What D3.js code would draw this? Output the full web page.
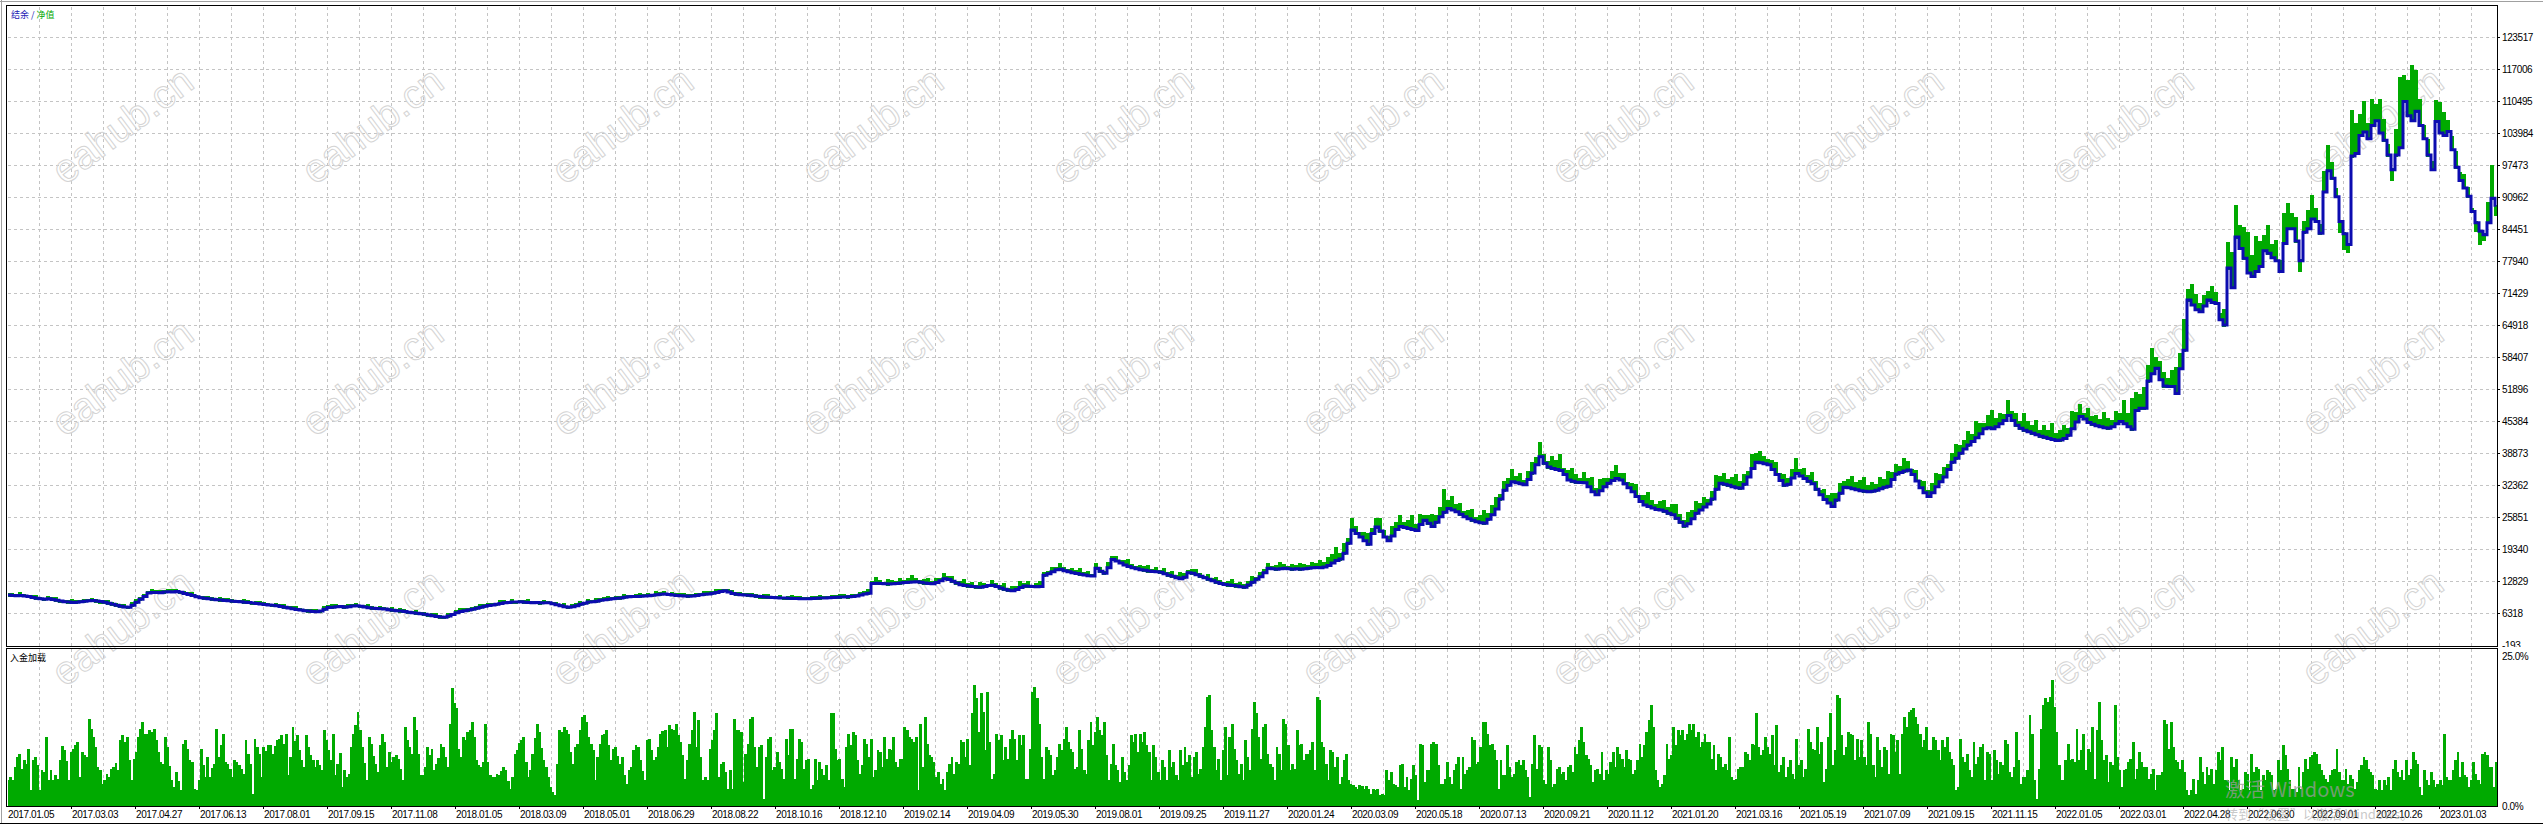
<!DOCTYPE html>
<html><head><meta charset="utf-8">
<script src="https://cdn.jsdelivr.net/npm/d3@7"></script>
<style>html,body{margin:0;padding:0;background:#fff;}svg{display:block;}</style>
</head><body>
<svg id="c" width="2543" height="824"></svg>
<script>
// ---- data ----
const balance = [
9980,9900,9850,9900,9800,9700,9450,9300, 9200,9100,9200,9050,8900,8750,8600,8550,
8450,8500,8600,8700,8800,8850,8750,8650, 8500,8300,8100,7900,7700,7550,7500,7900,
8500,9100,9700,10400,10500,10500,10450,10600, 10650,10600,10700,10550,10300,10100,9900,9600,
9400,9300,9200,9100,9000,8950,8850,8800, 8700,8650,8600,8500,8450,8350,8250,8150,
8050,7950,7900,7800,7650,7500,7350,7200, 7050,6950,6800,6700,6600,6550,6700,7100,
7450,7500,7600,7650,7500,7600,7750,7800, 7700,7550,7400,7300,7250,7200,7150,7000,
6900,6800,6700,6600,6450,6350,6250,6150, 6050,5900,5750,5600,5500,5450,5700,6000,
6350,6600,6800,6950,7100,7300,7500,7700, 7850,7950,8100,8250,8400,8450,8550,8550,
8600,8500,8450,8400,8450,8350,8400,8400, 8200,8000,7800,7600,7500,7600,7800,8100,
8300,8550,8600,8700,8900,9000,9100,9200, 9300,9350,9500,9600,9650,9700,9750,9780,
9850,9950,10050,10150,10200,10100,10000,9900, 9850,9800,9750,9780,9900,10050,10150,10200,
10350,10500,10700,10850,10600,10300,10150,10050, 10000,9950,9850,9750,9650,9550,9500,9450,
9400,9380,9350,9300,9280,9250,9230,9220, 9230,9250,9300,9350,9380,9400,9450,9500,
9550,9580,9620,9650,9800,10000,10200,10350, 12300,12350,12300,12250,12200,12250,12300,12400,
12500,12600,12650,12700,12550,12400,12300,12250, 12500,12900,13300,13150,12800,12400,12050,11900,
11800,11700,11600,11550,11700,11900,11950,11700, 11400,11150,10950,10850,11100,11500,11800,11750,
11700,11650,11700,14000,14300,14700,15100,15200, 14900,14700,14500,14350,14200,14050,13900,13850,
15400,14800,14400,15500,17200,16900,16500,16100, 15800,15500,15300,15100,15000,14850,14750,14700,
14600,14300,14000,13800,13500,13300,13600,14500, 14400,14100,13800,13500,13200,12900,12600,12300,
12100,12000,11900,11800,11650,11550,12000,12600, 13200,13700,14500,15400,15300,15200,15300,15400,
15300,15200,15300,15200,15300,15400,15500,15600, 15500,15700,16000,16500,17000,17300,18500,20500,
23200,22500,21800,21000,20300,22500,23800,23000, 21800,21000,22000,23300,23900,23700,23500,23300,
23100,24300,25200,24600,23900,24800,25900,26800, 27600,27300,26900,26400,25900,25500,25200,24900,
24700,24600,25400,26300,27500,29500,31300,32300, 33000,32800,32600,32400,33500,34800,36500,38100,
36800,36000,35700,35500,35300,34500,33400,33100, 32900,32850,32800,32000,31000,30400,31200,32000,
32700,33300,33700,33400,32600,31800,31000,30000, 29000,28300,28000,27700,27400,27300,27000,26600,
26300,25600,24800,24000,24500,25500,26600,27300, 27900,28500,29500,31500,32700,32500,32300,32000,
31800,31700,32500,34000,35700,37000,36900,36700, 36500,35500,34500,33300,32300,32500,33800,34700,
34200,33700,33100,32600,31500,30400,29400,28700, 28000,29300,30700,31900,31800,31600,31400,31200,
31100,31000,31100,31300,31600,31900,32100,33500, 34600,34900,35200,35400,34500,33200,31800,30800,
30000,30800,32000,33000,34000,35500,37000,37800, 38800,39700,40500,41200,42000,42800,43800,44000,
43800,44200,44800,45500,46500,45500,44500,43900, 43500,43200,42900,42600,42300,42100,41800,41600,
41400,41500,41800,42500,43800,45200,46300,45800, 45100,44700,44400,44200,44000,43900,44200,44800,
45300,44800,44200,43700,47500,48000,48000,53500, 55000,56100,53800,52500,52400,52400,51000,56000,
59800,70000,69000,68000,67600,68800,70000,69500, 69300,66000,64900,76500,72500,82800,80500,78500,
75500,74800,75800,76800,80000,79500,78600,78000, 75800,81500,84500,84500,82000,78000,83800,84500,
86500,86000,83600,92000,96300,94800,91000,86000, 83500,81300,99300,99800,103500,104200,102800,105500,
106500,104000,102500,99500,96500,99500,101000,110400, 107500,106500,108400,105500,102800,99500,96500,106300,
104000,103500,104300,100600,97000,94300,92800,91100, 88000,85700,84000,83300,85700,90700,89000
];
// floating profit/loss (equity minus balance) at the same points
const floating = [
150,250,0,300,100,-100,200,350,100,0,250,150,300,-50,100,200,400,150,0,250,100,300,150,-100,200,350,200,50,150,300,0,250,450,200,100,0,300,150,250,-100,150,350,200,0,100,250,400,150,50,200,
300,100,0,250,150,350,200,-50,100,300,250,0,150,400,200,100,-100,250,150,300,50,200,350,100,0,150,300,200,-50,250,100,350,150,0,200,300,100,250,-100,150,400,200,50,300,150,0,250,100,350,200,
0,150,300,100,250,-50,200,350,150,0,300,100,250,400,150,-100,200,100,300,50,250,150,0,350,200,100,300,-50,150,250,400,100,0,200,300,150,50,250,100,350,0,200,150,300,-100,250,100,400,150,200,
300,0,250,100,350,150,-50,200,300,100,250,0,400,150,200,-100,300,100,250,350,50,200,150,0,300,250,100,400,150,-50,200,350,100,250,0,150,300,200,-100,250,400,100,150,300,0,200,350,150,250,100,-50,300,200,400,100,0,250,150,350,200,-100,300,150,250,
200,600,300,900,400,100,700,500,200,800,300,600,1000,400,100,500,800,300,600,200,900,400,700,100,500,1100,300,600,200,800,400,0,700,500,300,900,200,600,400,1000,300,700,100,500,800,400,200,600,300,900,
500,200,700,400,1000,300,600,100,800,500,200,900,400,700,300,600,1200,400,200,700,500,900,300,600,100,800,400,700,300,1000,500,200,600,900,400,100,700,300,800,500,200,600,1000,400,700,300,500,900,200,600,
400,800,300,600,1000,500,200,700,400,900,600,300,800,500,1200,700,1500,
1500,2500,1000,1800,800,2200,1200,600,1500,2000,900,1600,2400,1100,700,1800,1300,2100,900,1500,2600,1000,1800,700,1400,2200,1100,1700,4500,1500,2500,1200,2000,900,1400,1900,700,1300,2300,1000,1600,2100,800,1500,1200,2400,1000,1800,600,1400,
2000,1200,2800,1500,900,2200,1600,3000,1100,1800,2500,1300,700,1900,1400,2600,1000,2100,1500,800,1700,2400,1200,1900,900,1500,2200,1100,1700,2700,1300,800,1600,2100,1000,1800,2600,1400,900,2000,1500,2300,1100,1700,800,1400,2500,1200,1900,1000,
1600,2400,1100,1800,900,2700,1500,2100,1200,800,1700,2300,1300,2000,900,1600,2800,1200,1800,1000,2200,1400,700,1900,1300,2500,1100,1700,900,1500,2200,1300,1800,2600,1100,1600,900,2000,1400,2900,1200,1700,1000,2300,1500,800,1900,1300,2100,1000,1600,2400,1200,1800,900,1500,2600,1300,
1500,2500,1200,3000,1800,900,2200,3500,1400,2000,1000,2800,1600,2300,1100,3200,1900,1300,2600,1000,2100,1500,3000,1200,1800,2500,1100,3300,1700,2200,1000,2700,1400,2000,1200,3000,1800,1000,2400,1500,4500,2500,6000,3500,2500,4000,3000,5000,2000,3500,2500,1500,3000,5000,3000,6000,2000,4000,3000,1500,
2000,1500,3000,2000,1000,3000,5000,7000,6300,4500,6000,8000,4000,7000,5000,3000,5500,2500,4000,2000,6000,5000,3000,4500,-2000,2000,3500,4500,2500,1500,4000,5000,3000,1500,-2000,-3000,-1500,9000,6000,4000,6000,3000,5000,3000,6500,4000,2000,-2000,5000,14000,5000,7000,11000,8000,5000,2500,3000,1500,4000,6000,4500,2000,2500,3000,1500,2500,1500,500,-1500,-2500,-1000,4000,6500,-1500
];
// deposit load, percent
const depositLoad = [
4.2,4.7,4.2,6.3,7.9,8.4,6.0,7.4,6.8,9.2,2.6,7.4,7.8,6.5,2.6,5.7,5.5,11.0,4.2,5.8,4.2,5.0,4.4,7.4,9.6,9.0,7.2,4.2,8.7,9.2,9.8,10.3,4.7,8.7,8.1,7.9,13.9,12.4,11.0,9.5,6.3,5.8,3.6,4.2,5.2,4.7,6.0,6.3,6.9,5.8,10.6,11.4,10.2,11.1,7.4,4.2,7.6,8.7,11.1,12.3,13.5,11.6,11.6,12.2,11.8,12.4,10.6,8.7,7.1,6.8,11.1,9.5,6.4,4.2,3.1,5.5,4.0,2.6,10.0,10.6,9.1,7.4,7.1,2.8,2.6,4.2,9.2,6.5,4.7,7.9,4.7,6.1,6.8,12.3,7.9,9.8,11.6,7.1,6.8,5.9,4.7,7.4,7.1,6.6,6.0,5.2,10.6,8.3,6.8,2.0,10.7,9.4,8.4,
4.7,9.5,8.8,9.8,9.8,8.4,9.6,10.6,10.8,11.4,9.9,11.6,5.0,7.9,12.6,10.4,11.4,9.0,7.4,6.3,11.4,9.5,8.2,7.4,6.3,7.4,6.6,5.8,12.2,10.6,8.9,7.4,11.6,5.0,6.8,8.5,3.1,5.8,4.6,5.2,9.5,11.6,13.0,15.1,12.2,9.5,6.9,4.2,11.1,10.0,8.0,6.8,5.5,9.8,11.6,10.2,6.3,8.7,7.1,7.9,8.2,7.6,5.9,4.2,12.7,10.6,9.5,8.3,14.3,12.2,8.4,5.0,5.0,6.3,9.5,8.1,9.2,5.8,6.8,7.7,10.0,9.5,7.8,6.3,13.2,18.9,16.5,15.7,9.2,7.9,11.1,10.5,11.9,12.2,13.5,11.0,7.4,6.6,6.3,7.0,13.2,7.1,5.0,4.6,4.7,5.2,5.0,5.6,6.3,5.8,4.0,2.8,4.7,8.4,9.0,10.1,10.6,11.1,7.0,4.7,5.8,8.4,10.9,13.2,11.9,9.3,7.4,6.3,4.7,3.1,2.2,1.8,6.8,12.2,11.9,12.6,12.2,11.6,8.7,6.8,9.5,10.0,12.1,14.3,14.6,13.5,11.1,10.0,9.0,4.2,7.9,10.0,11.4,11.6,12.2,9.8,7.4,9.2,9.5,8.0,6.8,7.9,5.0,3.6,5.8,6.3,9.0,9.7,9.5,7.4,5.6,4.2,10.6,10.8,9.0,7.4,7.9,9.5,11.6,12.0,12.2,9.5,13.0,12.4,12.2,13.2,11.4,10.2,8.2,4.4,7.4,10.0,12.2,15.1,9.5,
13.8,7.9,4.2,4.7,4.2,9.2,10.6,12.2,14.9,4.7,6.8,7.1,5.5,2.8,5.8,2.8,14.0,12.2,12.2,11.9,3.9,8.4,10.0,14.0,14.3,9.5,6.3,9.5,9.8,1.2,7.9,10.8,11.1,5.8,6.3,8.7,7.1,6.0,4.4,10.8,8.2,12.3,12.4,4.4,7.6,10.8,10.3,6.0,7.4,7.6,2.8,3.4,7.6,4.2,7.1,6.0,5.0,6.6,4.2,14.9,14.9,9.2,7.4,7.6,4.4,3.1,9.5,11.6,9.8,11.9,11.4,7.4,5.2,6.6,10.8,10.0,7.9,10.8,4.7,5.8,9.0,8.7,6.3,11.1,7.6,9.2,9.0,11.1,7.1,6.3,7.6,7.6,12.7,12.2,11.1,10.8,10.3,11.1,2.6,13.2,6.3,14.3,10.0,8.2,7.9,7.1,4.7,5.5,3.6,4.4,2.6,5.5,6.8,7.9,5.2,7.1,6.8,10.6,10.3,7.9,10.8,6.6,14.9,19.4,17.3,11.9,18.1,15.1,9.0,18.3,10.3,4.4,5.2,11.6,10.6,11.4,7.4,9.5,7.6,10.8,12.2,10.8,7.4,11.4,9.8,11.4,4.4,4.4,9.2,18.3,19.1,17.3,13.2,7.9,4.4,9.5,9.0,8.2,5.0,5.8,7.9,10.0,9.0,10.8,12.7,10.3,9.2,8.7,6.0,6.3,12.2,9.2,5.8,5.2,10.6,13.5,9.8,11.9,14.3,12.2,11.4,13.5,8.2,4.2,6.8,10.0,6.6,5.8,3.9,7.9,5.5,4.2,6.6,11.4,10.3,11.6,8.7,11.6,10.3,11.9,9.8,8.7,4.2,9.8,7.9,5.5,4.2,7.4,6.3,4.2,9.0,6.3,7.1,5.0,4.2,9.0,6.6,9.5,7.1,8.2,4.7,7.9,8.7,5.2,6.0,9.5,12.7,17.5,17.8,12.2,9.5,5.8,7.6,4.2,9.0,12.7,5.0,11.1,13.2,9.2,7.4,5.2,6.8,4.2,10.6,7.9,5.8,12.4,16.7,14.9,11.1,7.6,12.7,13.2,8.4,6.8,6.3,4.2,9.5,8.4,5.8,14.0,13.2,9.8,5.8,6.8,6.0,12.2,9.8,10.0,7.4,8.4,8.4,9.0,10.3,5.8,17.5,17.0,10.3,9.5,6.8,4.2,9.0,8.7,6.3,7.9,3.6,4.7,7.4,8.4,4.2,3.6,3.4,3.1,2.8,3.4,3.2,2.8,3.2,2.8,2.0,2.8,2.6,2.8,1.8,2.0,1.8,5.8,4.2,5.5,3.6,3.4,3.0,
6.6,6.8,3.1,4.7,2.6,4.4,6.6,5.0,1.0,10.0,9.8,3.9,5.8,5.8,10.0,10.3,10.0,6.6,3.6,3.6,4.4,7.1,4.7,3.6,5.8,6.8,7.9,2.8,7.9,5.2,5.8,6.3,11.1,10.6,6.8,7.1,9.5,13.5,13.5,11.6,9.8,10.0,9.0,7.4,2.8,7.4,5.0,5.0,9.8,6.3,4.7,5.2,7.1,7.4,6.6,7.4,5.8,4.7,1.5,6.8,11.4,6.0,9.8,9.5,4.2,3.6,9.5,7.4,3.1,3.6,6.0,6.3,5.2,5.5,4.2,6.3,6.6,5.5,9.5,8.4,10.6,12.7,10.3,8.2,7.6,6.6,3.9,5.8,6.0,5.2,8.7,4.2,5.8,5.2,7.1,8.7,6.3,9.5,8.4,7.6,6.3,9.0,7.6,7.4,5.2,5.8,7.4,10.0,7.9,9.8,11.9,13.8,16.2,12.7,5.8,4.2,3.1,3.6,5.0,10.0,7.6,8.2,12.7,9.8,12.2,11.4,12.2,10.6,11.6,13.2,12.2,13.2,11.1,11.9,9.5,10.3,11.6,10.3,10.3,7.6,9.8,5.8,8.4,7.9,6.3,6.8,5.8,11.1,4.7,4.2,4.4,6.0,6.3,6.3,8.7,8.4,7.4,10.0,9.8,14.9,9.5,8.2,9.0,11.1,9.5,8.4,11.4,6.6,13.0,5.5,6.6,7.9,4.7,6.3,7.4,5.2,4.4,10.8,6.6,7.4,4.7,6.0,12.4,10.3,9.2,9.0,12.7,8.4,10.3,3.9,6.0,11.1,14.9,6.6,9.0,17.8,17.3,11.4,8.2,9.5,11.9,11.6,11.4,7.4,10.8,7.9,10.6,7.9,6.6,13.5,11.6,6.6,4.7,11.1,9.0,6.3,9.5,9.0,5.2,11.6,11.4,8.7,10.6,5.2,11.6,14.3,12.7,15.1,15.4,15.7,14.3,13.2,11.6,9.5,10.6,12.7,9.0,9.0,11.1,10.6,9.0,7.4,10.6,9.5,11.1,8.7,7.6,6.6,2.6,3.1,10.8,7.9,7.1,8.4,5.8,4.7,10.3,6.8,7.9,9.5,10.0,4.2,8.7,8.4,4.2,9.0,7.4,5.2,7.1,
6.6,10.6,10.0,5.5,4.7,6.3,11.9,7.4,3.6,4.7,4.7,5.8,14.6,11.6,4.2,1.2,6.0,12.4,16.2,17.3,16.7,17.5,20.2,15.9,11.9,6.6,4.2,4.2,7.4,10.0,7.4,7.6,7.1,12.4,7.4,9.0,11.6,5.8,9.2,8.7,12.7,4.4,12.2,16.7,10.6,7.4,8.2,3.9,7.1,6.6,16.2,7.9,5.8,3.1,5.8,6.0,7.1,7.6,10.3,4.4,6.0,8.7,7.1,6.3,6.3,4.4,5.2,6.0,2.6,5.0,5.0,5.5,13.8,13.2,9.2,13.5,9.5,7.4,7.1,6.0,7.4,5.5,2.6,1.8,2.6,4.4,2.0,4.2,7.9,5.5,3.6,6.3,5.0,6.0,3.6,5.8,8.7,7.4,9.5,4.2,4.2,2.6,7.9,6.3,7.6,4.2,2.6,2.8,5.5,5.2,2.6,8.4,5.5,6.3,6.0,2.6,5.0,4.2,5.8,5.5,5.0,2.6,2.8,7.4,5.8,9.8,8.2,6.0,4.2,2.8,2.8,2.3,6.3,2.8,5.5,7.6,6.0,7.9,8.2,8.7,8.4,6.8,5.8,5.0,4.4,3.9,5.0,5.8,6.0,9.2,5.5,4.2,4.2,6.0,3.6,5.0,4.4,2.8,3.9,5.8,6.6,7.9,7.4,6.0,5.5,5.0,2.8,2.6,4.2,2.6,4.2,3.4,4.7,2.6,6.0,7.4,5.5,4.7,5.8,4.2,7.4,5.0,6.0,8.7,7.4,6.8,3.1,1.8,5.8,4.2,3.4,5.5,4.2,3.1,3.6,4.2,3.4,11.6,4.7,4.2,4.2,5.8,7.4,8.7,4.7,7.1,5.0,4.7,3.1,4.2,7.1,5.2,4.2,3.6,8.4,8.7,8.2,6.3,6.3,3.1,7.1
];
const dateLabels = ["2017.01.05","2017.03.03","2017.04.27","2017.06.13","2017.08.01","2017.09.15","2017.11.08","2018.01.05","2018.03.09","2018.05.01","2018.06.29","2018.08.22","2018.10.16","2018.12.10","2019.02.14","2019.04.09","2019.05.30","2019.08.01","2019.09.25","2019.11.27","2020.01.24","2020.03.09","2020.05.18","2020.07.13","2020.09.21","2020.11.12","2021.01.20","2021.03.16","2021.05.19","2021.07.09","2021.09.15","2021.11.15","2022.01.05","2022.03.01","2022.04.28","2022.06.30","2022.09.01","2022.10.26","2023.01.03"];
const yTicks = [-193,6318,12829,19340,25851,32362,38873,45384,51896,58407,64918,71429,77940,84451,90962,97473,103984,110495,117006,123517];
const loadTicks = [0,25];

// ---- layout ----
const L=7, R=2497, T=6, MB=646, LT=648, LB=806;
const svg = d3.select('#c');
const FONT = '"Liberation Sans", Arial, sans-serif';
const CJK = '"Noto Sans CJK SC", sans-serif';

const x = d3.scaleLinear().domain([0, balance.length - 0.5]).range([L, R]);
const y = d3.scaleLinear().domain([yTicks[0], yTicks[yTicks.length-1]]).range([645, 37]);
const yLoad = d3.scaleLinear().domain([0, 25]).range([LB, 650]);
const xBar = d3.scaleBand().domain(d3.range(depositLoad.length)).range([L, R]);
const labelStep = 16, gridStep = 8;

const defs = svg.append('defs');
defs.append('clipPath').attr('id','cm').append('rect').attr('x',L+1).attr('y',T+1).attr('width',R-L-1).attr('height',MB-T-1);
defs.append('clipPath').attr('id','cl').append('rect').attr('x',L+1).attr('y',LT+1).attr('width',R-L-1).attr('height',LB-LT-1);
defs.append('clipPath').attr('id','ca').append('rect').attr('x',R+1).attr('y',0).attr('width',60).attr('height',MB+1);

// window border
svg.append('line').attr('x1',0).attr('x2',2543).attr('y1',1.5).attr('y2',1.5).attr('stroke','#a0a0a0');
svg.append('line').attr('x1',1.5).attr('x2',1.5).attr('y1',0).attr('y2',824).attr('stroke','#a0a0a0');
svg.append('line').attr('x1',0).attr('x2',2543).attr('y1',823.5).attr('y2',823.5).attr('stroke','#000');

// grid
const grid = svg.append('g').attr('stroke','#c4c4c4').attr('stroke-dasharray','3,3').attr('shape-rendering','crispEdges');
const gIdx = d3.range(gridStep, balance.length, gridStep);
grid.selectAll('.v1').data(gIdx).enter().append('line')
  .attr('x1',d=>Math.round(x(d))+0.5).attr('x2',d=>Math.round(x(d))+0.5).attr('y1',T+1).attr('y2',MB);
grid.selectAll('.v2').data(gIdx).enter().append('line')
  .attr('x1',d=>Math.round(x(d))+0.5).attr('x2',d=>Math.round(x(d))+0.5).attr('y1',LT+1).attr('y2',LB);
grid.selectAll('.h').data(yTicks.slice(1)).enter().append('line')
  .attr('x1',L+1).attr('x2',R).attr('y1',d=>Math.round(y(d))+0.5).attr('y2',d=>Math.round(y(d))+0.5);

// watermarks
const wm = svg.append('g').attr('font-family',FONT).attr('font-size',40)
  .attr('fill','none').attr('stroke','#d4d4d4').attr('stroke-width',1);
[125,377,627].forEach(cy=>{
  d3.range(10).forEach(k=>{
    const cx = 122 + 250*k;
    wm.append('text').attr('transform',`translate(${cx},${cy}) rotate(-37)`)
      .attr('text-anchor','middle').attr('dy','0.35em').text('eahub.cn');
  });
});

// deposit load bars
svg.append('g').attr('clip-path','url(#cl)').attr('fill','#00aa00').attr('shape-rendering','crispEdges')
  .selectAll('rect').data(depositLoad).enter().append('rect')
  .attr('x',(d,i)=>xBar(i)).attr('width',xBar.bandwidth()+0.6)
  .attr('y',d=>yLoad(d)).attr('height',d=>yLoad(0)-yLoad(d));

// equity (spikes between balance and equity) and balance lines
const equity = balance.map((b,i)=>b+floating[i]);
const lines = svg.append('g').attr('clip-path','url(#cm)');
const step = x(1)-x(0);
lines.append('g').attr('fill','#00aa00').attr('shape-rendering','crispEdges')
  .selectAll('rect').data(equity).enter().append('rect')
  .attr('x',(d,i)=>x(i)-1).attr('width',step)
  .attr('y',(d,i)=>y(Math.max(d,balance[i]))-1.5)
  .attr('height',(d,i)=>Math.abs(y(d)-y(balance[i]))+3);
const line = d3.line().x((d,i)=>x(i)).y(d=>y(d)).curve(d3.curveStepAfter);
lines.append('path').datum(balance).attr('d',line).attr('fill','none').attr('stroke','#0c0cb0').attr('stroke-width',3);

// frames
svg.append('rect').attr('x',L-0.5).attr('y',T-0.5).attr('width',R-L+1).attr('height',MB-T+1).attr('fill','none').attr('stroke','#000');
svg.append('rect').attr('x',L-0.5).attr('y',LT+0.5).attr('width',R-L+1).attr('height',LB-LT).attr('fill','none').attr('stroke','#000');

// right axis main
const ax = svg.append('g').attr('font-family',FONT).attr('font-size',10).attr('letter-spacing','-0.4px').attr('fill','#000');
yTicks.forEach(t=>{
  const yy = Math.round(y(t))+0.5;
  if (t !== yTicks[0]) svg.append('line').attr('x1',R).attr('x2',R+3).attr('y1',yy).attr('y2',yy).attr('stroke','#000');
  ax.append('text').attr('x',R+5).attr('y',yy).attr('dy','0.36em').text(t)
    .attr('clip-path', t===yTicks[0] ? 'url(#ca)' : null);
});
// right axis lower
loadTicks.forEach(t=>{
  ax.append('text').attr('x',R+5).attr('y',t===25 ? yLoad(t)+6 : yLoad(t)).attr('dy','0.36em').text(d3.format('.1f')(t)+'%');
});

// date labels
const dl = svg.append('g').attr('font-family',FONT).attr('font-size',10).attr('letter-spacing','-0.4px').attr('fill','#000');
dateLabels.forEach((d,k)=>{
  const xx = Math.round(x(k*labelStep));
  if (k>0) svg.append('line').attr('x1',xx+0.5).attr('x2',xx+0.5).attr('y1',LB).attr('y2',LB+3).attr('stroke','#000');
  dl.append('text').attr('x',xx+1).attr('y',818).text(d);
});

// panel titles
const tt = svg.append('text').attr('x',11).attr('y',18).attr('font-family',CJK).attr('font-size',9);
tt.append('tspan').attr('fill','#1a1ab4').text('结余');
tt.append('tspan').attr('fill','#1a1ab4').text(' / ');
tt.append('tspan').attr('fill','#00a800').text('净值');
svg.append('text').attr('x',10).attr('y',661).attr('font-family',CJK).attr('font-size',9).attr('fill','#000').text('入金加载');

// OS overlay text (shown over the chart in the reference)
svg.append('text').attr('x',2225).attr('y',797).attr('font-family',CJK).attr('font-size',20)
  .attr('fill','#9a9a9a').attr('fill-opacity',0.75).text('激活 Windows');
svg.append('text').attr('x',2225).attr('y',819).attr('font-family',CJK).attr('font-size',13)
  .attr('fill','#9a9a9a').attr('fill-opacity',0.55).text('转到“设置”以激活 Windows。');
</script>
</body></html>
